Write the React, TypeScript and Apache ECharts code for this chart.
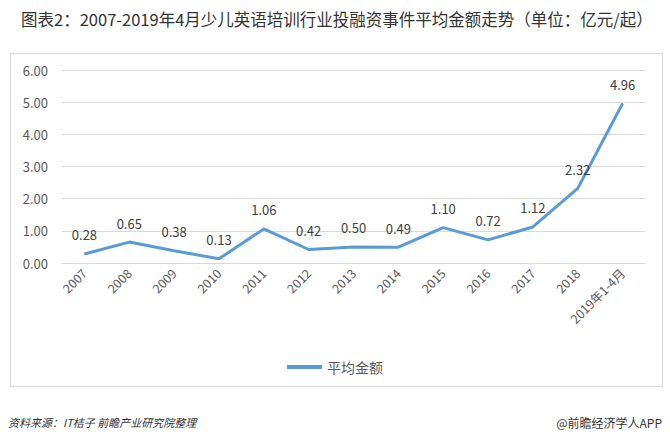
import React, { useEffect, useRef } from "react";
import * as echarts from "echarts";

const categories = ["2007", "2008", "2009", "2010", "2011", "2012", "2013", "2014", "2015", "2016", "2017", "2018", "2019年1-4月"];
const avgAmount = [0.28, 0.65, 0.38, 0.13, 1.06, 0.42, 0.5, 0.49, 1.1, 0.72, 1.12, 2.32, 4.96];
const seriesName = "平均金额";
const titleText = "图表2：2007-2019年4月少儿英语培训行业投融资事件平均金额走势（单位：亿元/起）";
const sourceText = "资料来源：IT桔子 前瞻产业研究院整理";
const brandText = "@前瞻经济学人APP";

export default function App() {
  const ref = useRef<HTMLDivElement>(null);
  useEffect(() => {
    const chart = echarts.init(ref.current!, null, { renderer: "svg" });
    const font = "'Microsoft YaHei', 'Noto Sans CJK SC', sans-serif";
    chart.setOption({
      animation: false,
      backgroundColor: "#fff",
      textStyle: { fontFamily: font },
      title: {
        text: titleText,
        left: 16,
        top: 6,
        textStyle: { fontSize: 16.5, fontWeight: "normal", color: "#333", fontFamily: font },
      },
      graphic: [
        {
          type: "rect",
          shape: { x: 10.5, y: 53.5, width: 652, height: 333 },
          style: { fill: "none", stroke: "#D9D9D9", lineWidth: 1 },
          silent: true,
        },
        {
          type: "text",
          left: 8,
          top: 416,
          style: { text: sourceText, font: "italic 11px " + font, fill: "#333" },
        },
        {
          type: "text",
          right: 8,
          top: 416,
          style: { text: brandText, font: "12px " + font, fill: "#333" },
        },
      ],
      legend: {
        data: [{ name: seriesName, icon: "rect" }],
        top: 355,
        left: "center",
        itemWidth: 35,
        itemHeight: 4,
        itemGap: 6,
        textStyle: { fontSize: 14, color: "#595959" },
      },
      grid: { left: 62, right: 25, top: 70, height: 193, containLabel: false },
      xAxis: {
        type: "category",
        data: categories,
        boundaryGap: true,
        axisLine: { lineStyle: { color: "#D9D9D9" } },
        axisTick: { show: false },
        axisLabel: { rotate: 45, fontSize: 12.5, color: "#595959", interval: 0, margin: 8 },
      },
      yAxis: {
        type: "value",
        min: 0,
        max: 6,
        interval: 1,
        axisLine: { show: false },
        axisTick: { show: false },
        splitLine: { lineStyle: { color: "#D9D9D9" } },
        axisLabel: { fontSize: 13, color: "#595959", margin: 14, formatter: (v: number) => v.toFixed(2) },
      },
      series: [
        {
          name: seriesName,
          type: "line",
          data: avgAmount,
          symbol: "circle",
          symbolSize: 1,
          showSymbol: true,
          lineStyle: { color: "#5B9BD5", width: 3 },
          itemStyle: { color: "#5B9BD5" },
          label: {
            show: true,
            position: "top",
            distance: 12,
            fontSize: 13,
            color: "#404040",
            formatter: (p: any) => Number(p.value).toFixed(2),
          },
        },
      ],
    });
    return () => chart.dispose();
  }, []);
  return <div ref={ref} style={{ width: 670, height: 447, position: "absolute", left: 0, top: 0 }} />;
}
